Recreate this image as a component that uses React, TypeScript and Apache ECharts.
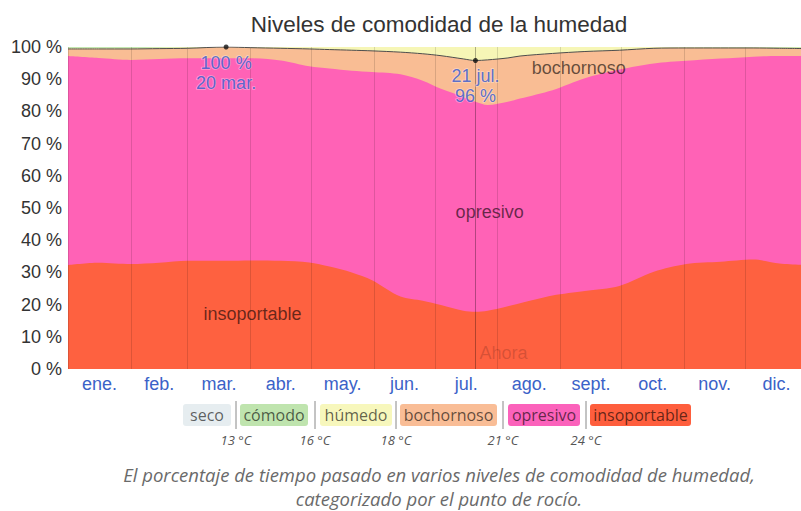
import React, { useEffect, useRef } from 'react';
import * as echarts from 'echarts';

// Day of year (0 = 1 Jan) for every sample
const days = [0, 15, 31, 45, 59, 78, 90, 105, 119, 129, 140, 150, 164, 175, 184, 195, 201, 207, 217, 223, 239, 255, 272, 289, 305, 322, 338, 351, 365];
// Percent of time in each humidity comfort band
const insoportable = [32.3, 33.0, 32.6, 33.0, 33.6, 33.6, 33.7, 33.6, 33.1, 31.8, 30.0, 27.6, 22.5, 21.2, 19.9, 18.1, 17.8, 18.1, 19.5, 20.4, 22.8, 24.2, 25.8, 30.2, 32.6, 33.3, 34.0, 32.8, 32.3];
const opresivo = [64.9, 63.6, 63.4, 63.3, 62.9, 62.9, 62.8, 62.2, 60.9, 61.5, 62.6, 64.6, 69.0, 68.3, 67.1, 66.4, 65.2, 63.9, 63.5, 63.6, 63.8, 66.1, 67.2, 64.7, 63.1, 63.1, 63.0, 64.4, 64.9];
const bochornoso = [2.2, 2.8, 3.4, 3.2, 3.1, 3.5, 3.3, 3.8, 5.4, 5.9, 6.4, 6.6, 6.9, 8.4, 10.3, 11.8, 12.8, 14.0, 13.6, 13.2, 11.4, 8.3, 6.0, 4.7, 4.0, 3.3, 2.7, 2.4, 2.3];
const humedo = [0.3, 0.3, 0.3, 0.3, 0.3, 0.0, 0.2, 0.4, 0.6, 0.8, 1.0, 1.2, 1.6, 2.1, 2.7, 3.7, 4.2, 4.0, 3.4, 2.8, 2.0, 1.4, 1.0, 0.4, 0.3, 0.2, 0.2, 0.2, 0.3];
const comodo = [0.3, 0.3, 0.3, 0.2, 0.1, 0.0, 0.0, 0.0, 0.0, 0.0, 0.0, 0.0, 0.0, 0.0, 0.0, 0.0, 0.0, 0.0, 0.0, 0.0, 0.0, 0.0, 0.0, 0.0, 0.0, 0.1, 0.1, 0.2, 0.2];

const monthStarts = [0, 31, 59, 90, 120, 151, 181, 212, 243, 273, 304, 334, 365];
const monthLabels = ['ene.', 'feb.', 'mar.', 'abr.', 'may.', 'jun.', 'jul.', 'ago.', 'sept.', 'oct.', 'nov.', 'dic.'];
// last day visible at the right edge of the (cropped) chart
const visibleMaxDay = 361.6;

const markerDays = [78, 201];
const markerValues = [100, 95.8];
const markerLabels = ['100 %\n20 mar.', '21 jul.\n96 %'];
const nowDay = 201;

const bandNames = ['seco', 'cómodo', 'húmedo', 'bochornoso', 'opresivo', 'insoportable'];
const bandColors = ['#e6edf0', '#bfe4ae', '#f7f7bc', '#f9bd96', '#fb62bb', '#fe5e3d'];
const thresholdLabels = ['13 °C', '16 °C', '18 °C', '21 °C', '24 °C'];

const regionTexts = ['bochornoso', 'opresivo', 'insoportable'];
const regionDays = [252, 208, 91];
const regionValues = [93.4, 48.8, 17];

const captionText = 'El porcentaje de tiempo pasado en varios niveles de comodidad de humedad,\ncategorizado por el punto de rocío.';

const C_INS = '#fe6140';
const C_OPR = '#ff62b6';
const C_BOC = '#f9bd94';
const C_HUM = '#f6f6b6';
const C_COM = '#c4e7b0';

export default function App() {
  const ref = useRef<HTMLDivElement>(null);
  useEffect(() => {
    if (!ref.current) return;
    const chart = echarts.init(ref.current, null, { renderer: 'svg' });
    const monthMids = monthStarts.slice(0, 12).map((s, i) => (s + monthStarts[i + 1]) / 2);
    // bands from bottom to top; each area is drawn from 0 to its cumulative top
    const bands = [insoportable, opresivo, bochornoso, humedo, comodo];
    const cum: number[][] = [];
    bands.forEach((b, k) => {
      cum.push(b.map((v, i) => +(v + (k > 0 ? cum[k - 1][i] : 0)).toFixed(2)));
    });
    const area = (name: string, k: number, color: string, line?: any) => ({
      name,
      type: 'line',
      data: days.map((d, i) => [d, cum[k][i]]),
      smooth: 0.3,
      symbol: 'none',
      areaStyle: { color, opacity: 1, origin: 'start' },
      lineStyle: line || { width: 0 },
      silent: true,
    });
    const sansFont = '"Liberation Sans", Arial, sans-serif';
    chart.setOption({
      animation: false,
      backgroundColor: '#ffffff',
      title: {
        text: 'Niveles de comodidad de la humedad',
        left: 434,
        top: 8,
        textAlign: 'center',
        textStyle: { fontFamily: sansFont, fontSize: 22.5, fontWeight: 'normal', color: '#333' },
      },
      grid: { left: 68, top: 47, right: 0, height: 322 },
      xAxis: {
        type: 'value',
        min: 0,
        max: visibleMaxDay,
        z: 5,
        axisLine: { show: false },
        axisTick: { show: false, customValues: monthStarts.filter((d) => d <= visibleMaxDay) },
        axisLabel: {
          customValues: monthMids,
          formatter: (v: number) => {
            const i = monthMids.findIndex((m) => Math.abs(m - v) < 0.01);
            return i >= 0 ? monthLabels[i] : '';
          },
          fontFamily: sansFont,
          fontSize: 18,
          color: '#3b62c8',
          margin: 6,
        },
        splitLine: { show: true, lineStyle: { color: 'rgba(0,0,0,0.13)', width: 1 } },
      },
      yAxis: {
        type: 'value',
        min: 0,
        max: 100,
        interval: 10,
        axisLine: { show: false },
        axisTick: { show: false },
        splitLine: { show: false },
        axisLabel: { formatter: '{value} %', fontFamily: sansFont, fontSize: 18, color: '#333', margin: 6 },
      },
      series: [
        area('cómodo', 4, C_COM),
        area('húmedo', 3, C_HUM),
        area('bochornoso', 2, C_BOC, { width: 1, color: '#4d4d4d' }),
        area('opresivo', 1, C_OPR),
        {
          ...area('insoportable', 0, C_INS),
          markLine: {
            silent: true,
            symbol: 'none',
            label: { show: false },
            lineStyle: { color: 'rgba(0,0,0,0.3)', width: 1, type: 'solid' },
            data: [{ xAxis: nowDay }],
          },
        },
        {
          type: 'scatter',
          data: markerDays.map((d, i) => [d, markerValues[i]]),
          symbolSize: 5,
          itemStyle: { color: '#111' },
          z: 10,
          label: {
            show: true,
            position: 'bottom',
            distance: 3,
            formatter: (p: any) => markerLabels[p.dataIndex],
            fontFamily: sansFont,
            fontSize: 18,
            lineHeight: 20,
            color: '#3355cc',
            textBorderColor: 'rgba(255,255,255,0.45)',
            textBorderWidth: 1.5,
          },
        },
      ],
    });

    const g: any[] = [];
    regionTexts.forEach((t, i) => {
      const p = chart.convertToPixel({ gridIndex: 0 }, [regionDays[i], regionValues[i]]) as number[];
      g.push({
        type: 'text', x: p[0], y: p[1], z: 50,
        style: { text: t, fill: 'rgba(0,0,0,0.6)', font: `18px ${sansFont}`, align: 'center', verticalAlign: 'middle' },
      });
    });
    const np = chart.convertToPixel({ gridIndex: 0 }, [nowDay, 5]) as number[];
    g.push({
      type: 'text', x: np[0] + 4, y: np[1], z: 50,
      style: { text: 'Ahora', fill: 'rgba(0,0,0,0.17)', font: `18px ${sansFont}`, align: 'left', verticalAlign: 'middle' },
    });

    // legend
    const openFont = '"Open Sans", "Noto Sans", sans-serif';
    const boxes = [[183, 231], [240, 308], [320, 392], [400, 497], [508, 580], [590, 691]];
    const seps = [236, 315, 396, 503, 586];
    boxes.forEach((b, i) => {
      g.push({
        type: 'rect', z: 50,
        shape: { x: b[0], y: 404, width: b[1] - b[0], height: 22, r: 3 },
        style: { fill: bandColors[i] },
      });
      g.push({
        type: 'text', z: 51, x: (b[0] + b[1]) / 2, y: 415,
        style: { text: bandNames[i], fill: 'rgba(0,0,0,0.62)', font: `16px ${openFont}`, align: 'center', verticalAlign: 'middle' },
      });
    });
    seps.forEach((s, i) => {
      g.push({
        type: 'line', z: 50,
        shape: { x1: s, y1: 401, x2: s, y2: 429 },
        style: { stroke: '#888', lineWidth: 1 },
      });
      g.push({
        type: 'text', z: 51, x: s, y: 440,
        style: { text: thresholdLabels[i], fill: '#555', font: `italic 13px ${openFont}`, align: 'center', verticalAlign: 'middle' },
      });
    });
    g.push({
      type: 'text', z: 51, x: 439, y: 486,
      style: {
        text: captionText,
        fill: '#6a6a6a',
        font: `italic 18.5px ${openFont}`,
        lineHeight: 24,
        align: 'center',
        verticalAlign: 'middle',
      },
    });
    chart.setOption({ graphic: g });

    return () => chart.dispose();
  }, []);
  return (
    <div
      ref={ref}
      style={{ position: 'absolute', left: 0, top: 0, width: 801, height: 511, overflow: 'hidden', background: '#fff' }}
    />
  );
}
